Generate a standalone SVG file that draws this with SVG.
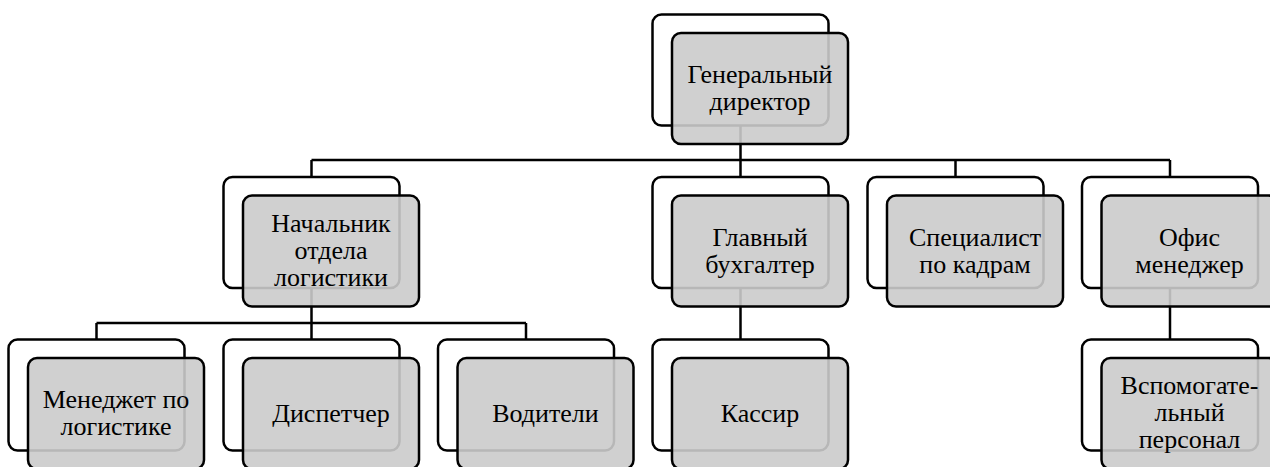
<svg xmlns="http://www.w3.org/2000/svg" width="1270" height="467" viewBox="0 0 1270 467">
<defs>
<rect id="back" width="176" height="111" rx="9" fill="#ffffff" stroke="#000000" stroke-width="2.5"/>
<rect id="front" width="176" height="111" rx="9" fill="#cbcbcb" fill-opacity="0.9" stroke="#000000" stroke-width="2.5"/>
</defs>
<rect width="1270" height="467" fill="#fff"/>
<g id="connectors" fill="none" stroke="#000000" stroke-width="2.5">
<path d="M740.5 125 V160 M311.5 160 H1170 M311.5 160 V177 M740.5 160 V177 M955.5 160 V177 M1170 160 V177"/>
<path d="M311.5 288 V323 M96.5 323 H526 M96.5 323 V339.5 M311.5 323 V339.5 M526 323 V339.5"/>
<path d="M740.5 288 V339.5"/>
<path d="M1170 288 V339.5"/>
</g>
<g id="n-gendir">
<use href="#back" x="652.5" y="14.5"/>
<use href="#front" x="672" y="33"/>
<text x="760" y="83" font-family="Liberation Serif" font-size="26" text-anchor="middle">Генеральный</text>
<text x="760" y="110" font-family="Liberation Serif" font-size="26" text-anchor="middle">директор</text>
</g>
<g id="n-logistics-head">
<use href="#back" x="223.5" y="177"/>
<use href="#front" x="243" y="195.5"/>
<text x="331" y="232" font-family="Liberation Serif" font-size="26" text-anchor="middle">Начальник</text>
<text x="331" y="259" font-family="Liberation Serif" font-size="26" text-anchor="middle">отдела</text>
<text x="331" y="286" font-family="Liberation Serif" font-size="26" text-anchor="middle">логистики</text>
</g>
<g id="n-chief-accountant">
<use href="#back" x="652.5" y="177"/>
<use href="#front" x="672" y="195.5"/>
<text x="760" y="246" font-family="Liberation Serif" font-size="26" text-anchor="middle">Главный</text>
<text x="760" y="273" font-family="Liberation Serif" font-size="26" text-anchor="middle">бухгалтер</text>
</g>
<g id="n-hr">
<use href="#back" x="867.5" y="177"/>
<use href="#front" x="887" y="195.5"/>
<text x="975" y="246" font-family="Liberation Serif" font-size="26" text-anchor="middle">Специалист</text>
<text x="975" y="273" font-family="Liberation Serif" font-size="26" text-anchor="middle">по кадрам</text>
</g>
<g id="n-office">
<use href="#back" x="1082" y="177"/>
<use href="#front" x="1101.5" y="195.5"/>
<text x="1189.5" y="246" font-family="Liberation Serif" font-size="26" text-anchor="middle">Офис</text>
<text x="1189.5" y="273" font-family="Liberation Serif" font-size="26" text-anchor="middle">менеджер</text>
</g>
<g id="n-log-manager">
<use href="#back" x="8.5" y="339.5"/>
<use href="#front" x="28" y="358"/>
<text x="116" y="408" font-family="Liberation Serif" font-size="26" text-anchor="middle">Менеджет по</text>
<text x="116" y="435" font-family="Liberation Serif" font-size="26" text-anchor="middle">логистике</text>
</g>
<g id="n-dispatcher">
<use href="#back" x="223.5" y="339.5"/>
<use href="#front" x="243" y="358"/>
<text x="331" y="422" font-family="Liberation Serif" font-size="26" text-anchor="middle">Диспетчер</text>
</g>
<g id="n-drivers">
<use href="#back" x="438" y="339.5"/>
<use href="#front" x="457.5" y="358"/>
<text x="545.5" y="422" font-family="Liberation Serif" font-size="26" text-anchor="middle">Водители</text>
</g>
<g id="n-cashier">
<use href="#back" x="652.5" y="339.5"/>
<use href="#front" x="672" y="358"/>
<text x="760" y="422" font-family="Liberation Serif" font-size="26" text-anchor="middle">Кассир</text>
</g>
<g id="n-support">
<use href="#back" x="1082" y="339.5"/>
<use href="#front" x="1101.5" y="358"/>
<text x="1189.5" y="394" font-family="Liberation Serif" font-size="26" text-anchor="middle">Вспомогате-</text>
<text x="1189.5" y="421" font-family="Liberation Serif" font-size="26" text-anchor="middle">льный</text>
<text x="1189.5" y="447.5" font-family="Liberation Serif" font-size="26" text-anchor="middle">персонал</text>
</g>
</svg>
